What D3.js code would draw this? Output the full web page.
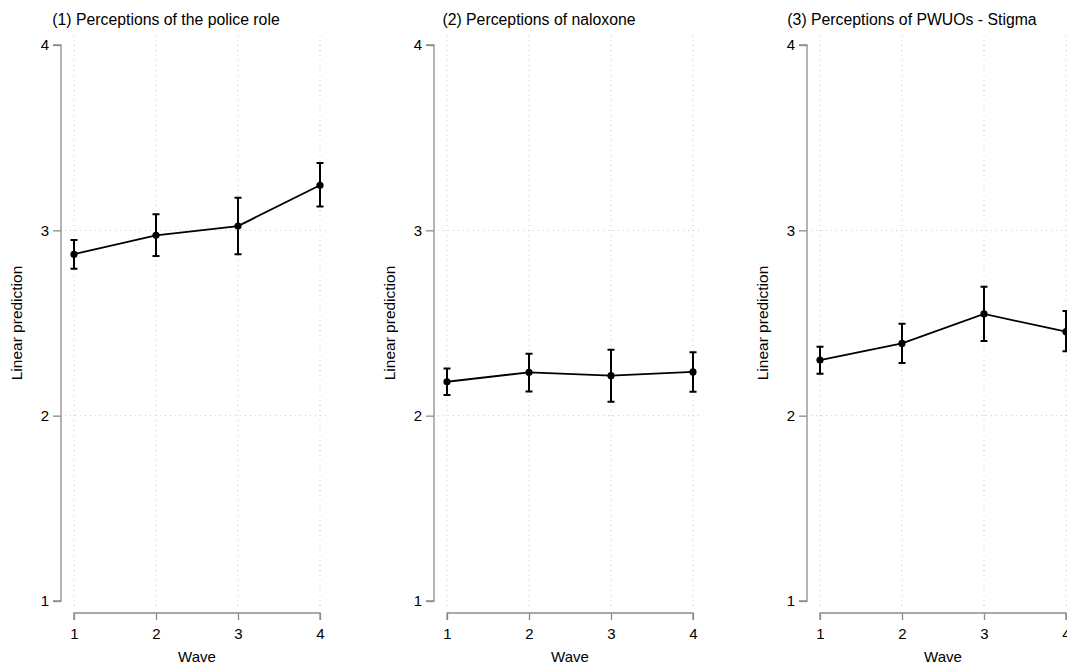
<!DOCTYPE html>
<html><head><meta charset="utf-8">
<script src="https://cdn.jsdelivr.net/npm/d3@7"></script>
<style>body{margin:0;background:#fff}svg{display:block;font-family:"Liberation Sans",Arial,Helvetica,sans-serif}</style>
</head><body>
<svg id="c" width="1067" height="669"></svg>
<script>
const waves = [1, 2, 3, 4];
const titles = ["(1) Perceptions of the police role", "(2) Perceptions of naloxone", "(3) Perceptions of PWUOs - Stigma"];
const yTicks = [1, 2, 3, 4];
const estPolice = [2.871, 2.973, 3.023, 3.243];
const loPolice = [2.793, 2.862, 2.871, 3.128];
const hiPolice = [2.948, 3.087, 3.176, 3.363];
const estNalox = [2.183, 2.234, 2.216, 2.236];
const loNalox = [2.111, 2.131, 2.075, 2.129];
const hiNalox = [2.255, 2.334, 2.356, 2.342];
const estStigma = [2.300, 2.390, 2.549, 2.453];
const loStigma = [2.226, 2.284, 2.403, 2.347];
const hiStigma = [2.372, 2.496, 2.696, 2.565];
const panels = [
  {est: estPolice, lo: loPolice, hi: hiPolice},
  {est: estNalox, lo: loNalox, hi: hiNalox},
  {est: estStigma, lo: loStigma, hi: hiStigma}
];

const svg = d3.select("#c");
const panelW = 373;
const FS = 15;
panels.forEach((p, i) => {
  const ox = i * panelW;
  const g = svg.append("g").attr("transform", `translate(${ox},0)`);
  const x = d3.scaleLinear().domain([1, 4]).range([74, 320]);
  const y = d3.scaleLinear().domain([1, 4]).range([601, 45]);
  // gridlines
  g.selectAll(".vg").data(waves).enter().append("line")
    .attr("x1", d => x(d)).attr("x2", d => x(d)).attr("y1", 35).attr("y2", 609)
    .attr("stroke", "#c8c8c8").attr("stroke-width", 1).attr("stroke-dasharray", "1,4");
  g.selectAll(".hg").data([2, 3]).enter().append("line")
    .attr("x1", 65).attr("x2", 330).attr("y1", d => y(d)).attr("y2", d => y(d))
    .attr("stroke", "#c8c8c8").attr("stroke-width", 1).attr("stroke-dasharray", "1,4");
  // y axis
  const ya = g.append("g").attr("transform", "translate(61,0)")
    .call(d3.axisLeft(y).tickValues(yTicks).tickFormat(d3.format("d")).tickSize(8).tickPadding(4));
  ya.select(".domain").attr("stroke", "#8c8c8c").attr("stroke-width", 1.3)
    .attr("d", `M-8,${y(4)}H0V${y(1)}H-8`);
  ya.selectAll(".tick line").attr("stroke", "#8c8c8c").attr("stroke-width", 1.3);
  ya.selectAll(".tick text").attr("font-size", FS).attr("fill", "#000").attr("font-family", "Liberation Sans, Arial, sans-serif");
  // x axis
  const xa = g.append("g").attr("transform", "translate(0,613)")
    .call(d3.axisBottom(x).tickValues(waves).tickFormat(d3.format("d")).tickSize(7).tickPadding(8));
  xa.select(".domain").attr("stroke", "#8c8c8c").attr("stroke-width", 1.3)
    .attr("d", `M${x(1)},7V0H${x(4)}V7`);
  xa.selectAll(".tick line").attr("stroke", "#8c8c8c").attr("stroke-width", 1.3);
  xa.selectAll(".tick text").attr("font-size", FS).attr("fill", "#000").attr("font-family", "Liberation Sans, Arial, sans-serif");
  // labels
  g.append("text").attr("x", (x(1) + x(4)) / 2).attr("y", 662).attr("text-anchor", "middle")
    .attr("font-size", FS).text("Wave");
  g.append("text").attr("transform", `translate(22,${(y(1) + y(4)) / 2}) rotate(-90)`)
    .attr("text-anchor", "middle").attr("font-size", 15.5).text("Linear prediction");
  g.append("text").attr("x", 166).attr("y", 25).attr("text-anchor", "middle").attr("font-size", 15.8).text(titles[i]);
  // error bars
  const cap = 3.5;
  waves.forEach((w, k) => {
    const cx = x(w);
    g.append("path").attr("fill", "none").attr("stroke", "#000").attr("stroke-width", 2)
      .attr("d", `M${cx - cap},${y(p.hi[k])}H${cx + cap}M${cx},${y(p.hi[k])}V${y(p.lo[k])}M${cx - cap},${y(p.lo[k])}H${cx + cap}`);
  });
  // line
  g.append("path").datum(waves.map((w, k) => [w, p.est[k]]))
    .attr("fill", "none").attr("stroke", "#000").attr("stroke-width", 1.8)
    .attr("d", d3.line().x(d => x(d[0])).y(d => y(d[1])));
  g.selectAll(".pt").data(waves.map((w, k) => [w, p.est[k]])).enter().append("circle")
    .attr("cx", d => x(d[0])).attr("cy", d => y(d[1])).attr("r", 3.6).attr("fill", "#000");
});
</script>
</body></html>
